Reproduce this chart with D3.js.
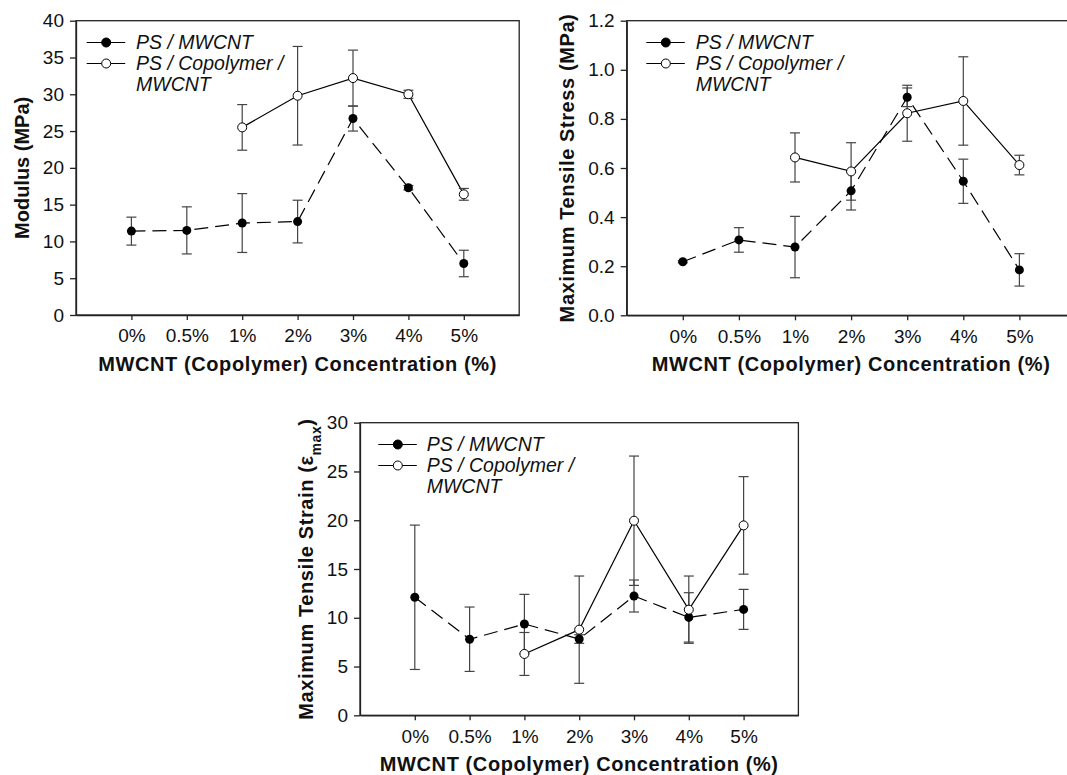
<!DOCTYPE html>
<html>
<head>
<meta charset="utf-8">
<script src="https://cdn.jsdelivr.net/npm/d3@7"></script>
<style>
    body { margin: 0; background: #fff; }
    svg { display: block; font-family: Arial, 'Liberation Sans', sans-serif; }
    .axis path, .axis line { stroke: #222; stroke-width: 1.3; }
    .axis text { fill: #111; }
    .frame { fill: none; stroke: #222; stroke-width: 1.3; }
    .axis-title { font-weight: bold; fill: #111; }
    .legend text { font-style: italic; fill: #111; }
    .err { stroke: #444; stroke-width: 1.2; }
</style>
</head>
<body>
<div id="content"></div>
<script>
const CATEGORIES = ['0%', '0.5%', '1%', '2%', '3%', '4%', '5%'];
const SERIES_NAMES = ['PS / MWCNT', 'PS / Copolymer /', 'MWCNT'];

const MODULUS_PS = [11.4, 11.5, 12.5, 12.7, 26.7, 17.3, 7.0];
const MODULUS_PS_ERR = [1.9, 3.2, 4.0, 2.9, 1.7, 0.3, 1.8];
const MODULUS_COP = [null, null, 25.5, 29.8, 32.2, 30.0, 16.4];
const MODULUS_COP_ERR = [null, null, 3.1, 6.7, 3.8, 0.55, 0.8];

const STRESS_PS = [0.218, 0.307, 0.278, 0.507, 0.888, 0.546, 0.185];
const STRESS_PS_ERR = [0.004, 0.05, 0.125, 0.078, 0.038, 0.09, 0.066];
const STRESS_COP = [null, null, 0.643, 0.586, 0.823, 0.873, 0.612];
const STRESS_COP_ERR = [null, null, 0.1, 0.117, 0.114, 0.18, 0.04];

const STRAIN_PS = [12.1, 7.8, 9.36, 7.82, 12.23, 10.04, 10.86];
const STRAIN_PS_ERR = [7.4, 3.3, 3.04, 0.44, 1.64, 2.53, 2.05];
const STRAIN_COP = [null, null, 6.29, 8.78, 19.95, 10.83, 19.47];
const STRAIN_COP_ERR = [null, null, 2.2, 5.5, 6.63, 3.45, 5.0];

var FONT = 'Arial, Liberation Sans, sans-serif';

var svg = d3.select('#content')
.append('svg')
.attr('width', 1067)
.attr('height', 775);

function toPoints(values, errs) {
    return values.map(function (v, i) {
        return {i: i + 1, v: v, e: errs[i]};
    }).filter(function (p) {return p.v !== null;});
}

function drawPanel(o) {
    var x = d3.scaleLinear().domain([0, 8]).range([o.left, o.left + o.step * 8]);
    var y = d3.scaleLinear().domain([0, o.yMax]).range([o.bottom, o.top]);

    var g = svg.append('g');

    g.append('rect')
    .attr('class', 'frame')
    .attr('x', x(0))
    .attr('y', y(o.yMax))
    .attr('width', x(8) - x(0))
    .attr('height', y(0) - y(o.yMax));

    var yAxis = d3.axisLeft(y)
    .tickValues(d3.range(0, o.yMax + o.yStep / 2, o.yStep))
    .tickFormat(d3.format(o.yFormat))
    .tickSizeInner(6)
    .tickSizeOuter(0)
    .tickPadding(6);
    g.append('g')
    .attr('class', 'axis')
    .attr('transform', 'translate(' + x(0) + ',0)')
    .call(yAxis)
    .attr('font-size', 19)
    .attr('font-family', FONT);

    var xAxis = d3.axisBottom(x)
    .tickValues(d3.range(1, CATEGORIES.length + 1))
    .tickFormat(function (d) {return CATEGORIES[d - 1];})
    .tickSizeInner(5)
    .tickSizeOuter(0)
    .tickPadding(9);
    g.append('g')
    .attr('class', 'axis')
    .attr('transform', 'translate(0,' + y(0) + ')')
    .call(xAxis)
    .attr('font-size', 19)
    .attr('font-family', FONT);

    // axis titles
    g.append('text')
    .attr('class', 'axis-title')
    .attr('font-size', 20)
    .attr('x', (x(0) + x(8)) / 2)
    .attr('y', y(0) + 56)
    .attr('text-anchor', 'middle')
    .style('letter-spacing', '0.6px')
    .text('MWCNT (Copolymer) Concentration (%)');

    var yt = g.append('text')
    .attr('class', 'axis-title')
    .attr('font-size', 20)
    .attr('transform', 'translate(' + o.yTitleX + ',' + (o.top + o.bottom) / 2 + ') rotate(-90)')
    .attr('text-anchor', 'middle')
    .attr('dy', '0.35em')
    .style('letter-spacing', o.yTitleSpacing);
    yt.append('tspan').text(o.yTitle);
    if (o.yTitleSub) {
        yt.append('tspan').attr('font-size', 14).attr('baseline-shift', 'sub').text(o.yTitleSub);
        yt.append('tspan').text(')');
    }

    var ps = toPoints(o.ps, o.psErr);
    var cop = toPoints(o.cop, o.copErr);

    var line = d3.line()
    .x(function (p) {return x(p.i);})
    .y(function (p) {return y(p.v);});

    g.append('path')
    .datum(ps)
    .attr('d', line)
    .attr('fill', 'none')
    .attr('stroke', '#000')
    .attr('stroke-width', 1.2)
    .attr('stroke-dasharray', '14,7');

    g.append('path')
    .datum(cop)
    .attr('d', line)
    .attr('fill', 'none')
    .attr('stroke', '#000')
    .attr('stroke-width', 1.2);

    var allPts = ps.concat(cop);
    var eb = g.append('g');
    eb.selectAll('.err-v')
    .data(allPts)
    .enter()
    .append('line')
    .attr('class', 'err')
    .attr('x1', function (p) {return x(p.i);})
    .attr('x2', function (p) {return x(p.i);})
    .attr('y1', function (p) {return y(p.v - p.e);})
    .attr('y2', function (p) {return y(p.v + p.e);});
    [-1, 1].forEach(function (s) {
        eb.selectAll('.cap' + s)
        .data(allPts)
        .enter()
        .append('line')
        .attr('class', 'err')
        .attr('x1', function (p) {return x(p.i) - 5;})
        .attr('x2', function (p) {return x(p.i) + 5;})
        .attr('y1', function (p) {return y(p.v + s * p.e);})
        .attr('y2', function (p) {return y(p.v + s * p.e);});
    });

    g.selectAll('.dot-ps')
    .data(ps)
    .enter()
    .append('circle')
    .attr('cx', function (p) {return x(p.i);})
    .attr('cy', function (p) {return y(p.v);})
    .attr('r', 4.5)
    .attr('fill', '#000');

    g.selectAll('.dot-cop')
    .data(cop)
    .enter()
    .append('circle')
    .attr('cx', function (p) {return x(p.i);})
    .attr('cy', function (p) {return y(p.v);})
    .attr('r', 4.5)
    .attr('fill', '#fff')
    .attr('stroke', '#000')
    .attr('stroke-width', 1);

    // legend
    var lg = g.append('g').attr('class', 'legend');
    var lx = x(0) + o.legendX;
    var rows = [o.top + 21.8, o.top + 42.8, o.top + 63.8];
    [0, 1].forEach(function (k) {
        lg.append('line')
        .attr('x1', lx).attr('x2', lx + 38.5)
        .attr('y1', rows[k]).attr('y2', rows[k])
        .attr('stroke', '#000').attr('stroke-width', 1.2);
        lg.append('circle')
        .attr('cx', lx + 19.5).attr('cy', rows[k]).attr('r', 4.5)
        .attr('fill', k === 0 ? '#000' : '#fff')
        .attr('stroke', '#000').attr('stroke-width', 1);
    });
    SERIES_NAMES.forEach(function (name, k) {
        lg.append('text')
        .attr('font-size', 19.5)
        .attr('x', lx + o.legendTextX)
        .attr('y', rows[k])
        .attr('dy', '0.35em')
        .text(name);
    });
}

function main() {
    drawPanel({
        left: 76, step: 55.4, top: 20.7, bottom: 315,
        yMax: 40, yStep: 5, yFormat: 'd',
        yTitle: 'Modulus (MPa)', yTitleX: 22, yTitleSpacing: '0px',
        ps: MODULUS_PS, psErr: MODULUS_PS_ERR, cop: MODULUS_COP, copErr: MODULUS_COP_ERR,
        legendX: 10.7, legendTextX: 49.3
    });
    drawPanel({
        left: 626.7, step: 56.1, top: 20.7, bottom: 315.3,
        yMax: 1.2, yStep: 0.2, yFormat: '.1f',
        yTitle: 'Maximum Tensile Stress (MPa)', yTitleX: 567, yTitleSpacing: '0.6px',
        ps: STRESS_PS, psErr: STRESS_PS_ERR, cop: STRESS_COP, copErr: STRESS_COP_ERR,
        legendX: 19.6, legendTextX: 49.4
    });
    drawPanel({
        left: 360, step: 54.8, top: 422.7, bottom: 715.3,
        yMax: 30, yStep: 5, yFormat: 'd',
        yTitle: 'Maximum Tensile Strain (\u03b5', yTitleSub: 'max', yTitleX: 306, yTitleSpacing: '0.6px',
        ps: STRAIN_PS, psErr: STRAIN_PS_ERR, cop: STRAIN_COP, copErr: STRAIN_COP_ERR,
        legendX: 18.3, legendTextX: 48.4
    });
}

main();
</script>
</body>
</html>
